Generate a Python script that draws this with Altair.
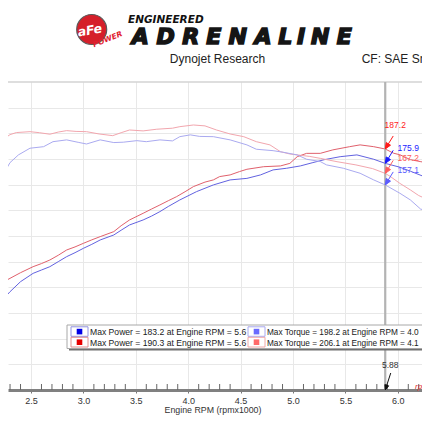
import altair as alt
import pandas as pd

# ---------------- data ----------------
# Red (after) power
rp_rpm = [2.20, 2.27, 2.40, 2.52, 2.60, 2.68, 2.76, 2.84, 2.92, 3.00, 3.08, 3.16, 3.29, 3.36, 3.44,
          3.57, 3.65, 3.73, 3.81, 3.89, 3.97, 4.05, 4.16, 4.24, 4.30, 4.40, 4.49, 4.56, 4.72, 4.88,
          4.97, 5.04, 5.13, 5.26, 5.38, 5.54, 5.64, 5.77, 5.88, 5.96, 6.02, 6.12, 6.22, 6.31]
rp_val = [79.3, 85.7, 91.4, 96.1, 98.5, 101.3, 105.0, 109.1, 111.5, 114.3, 117.0, 119.5, 123.4, 128.0, 132.5,
          137.7, 141.0, 144.2, 147.5, 150.7, 154.5, 158.5, 162.0, 163.7, 166.3, 167.6, 170.2, 172.0, 174.0, 174.6,
          176.6, 181.8, 184.4, 184.4, 187.1, 189.6, 191.0, 189.6, 187.8, 184.5, 183.3, 179.5, 177.9, 176.6]
# Blue (before) power
bp_rpm = [2.20, 2.30, 2.40, 2.52, 2.60, 2.68, 2.76, 2.84, 2.92, 3.00, 3.08, 3.16, 3.29, 3.36, 3.44,
          3.57, 3.65, 3.73, 3.81, 3.92, 4.08, 4.24, 4.40, 4.56, 4.69, 4.81, 4.94, 5.07, 5.19, 5.30,
          5.45, 5.61, 5.77, 5.88, 6.02, 6.12, 6.25, 6.31]
bp_val = [67.6, 76.6, 84.4, 90.9, 93.5, 96.1, 100.0, 103.9, 107.0, 110.4, 113.5, 116.9, 120.8, 124.5, 128.6,
          132.5, 135.5, 139.0, 143.0, 148.1, 154.6, 159.8, 163.7, 164.9, 167.6, 171.5, 172.8, 174.6, 177.2, 179.5,
          181.8, 183.2, 179.8, 176.6, 173.6, 170.5, 166.3, 168.9]
# Red (after) torque
rt_rpm = [2.20, 2.25, 2.30, 2.36, 2.49, 2.58, 2.68, 2.76, 2.84, 2.93, 3.03, 3.15, 3.28, 3.36, 3.44,
          3.57, 3.70, 3.85, 3.92, 4.05, 4.16, 4.27, 4.40, 4.53, 4.65, 4.78, 4.88, 4.97, 5.16, 5.26,
          5.42, 5.60, 5.76, 5.88, 5.93, 6.02, 6.12, 6.20, 6.31]
rt_val = [185.7, 196.2, 199.0, 200.6, 201.3, 200.5, 199.3, 201.0, 202.1, 201.5, 201.3, 199.5, 198.2, 200.5, 202.6,
          201.9, 203.2, 204.0, 205.2, 206.5, 205.8, 202.6, 199.5, 197.4, 193.5, 191.0, 185.7, 183.9, 182.0, 180.5,
          177.9, 175.4, 172.5, 168.8, 166.3, 161.0, 155.9, 151.5, 147.5]
# Blue (before) torque
bt_rpm = [2.20, 2.25, 2.30, 2.38, 2.49, 2.62, 2.71, 2.84, 2.95, 3.03, 3.16, 3.29, 3.38, 3.51, 3.60,
          3.73, 3.85, 3.92, 4.02, 4.11, 4.24, 4.40, 4.56, 4.65, 4.81, 4.91, 5.04, 5.13, 5.26, 5.32,
          5.48, 5.64, 5.77, 5.88, 6.02, 6.12, 6.22, 6.31]
bt_val = [155.9, 170.2, 177.2, 183.2, 188.4, 189.6, 193.5, 194.9, 193.0, 191.7, 194.9, 192.8, 193.1, 194.3, 193.5,
          194.9, 194.1, 197.4, 198.8, 197.6, 197.4, 194.9, 191.0, 187.6, 186.5, 185.2, 183.2, 179.8, 178.0, 175.4,
          172.8, 168.9, 163.7, 159.8, 153.3, 148.1, 140.8, 140.5]

series_names = ["Power (red)", "Power (blue)", "Torque (red)", "Torque (blue)"]
series_colors = ["#e0606c", "#6262e0", "#f2a6ae", "#aaaaf0"]

cursor_rpm = 5.88
flag_vals = [187.8, 176.6, 168.8, 159.8]          # curve heights at the cursor
flag_labels = ["187.2", "175.9", "167.2", "157.1"]
flag_colors = ["#ff1a1a", "#1a1aff", "#ff5c5c", "#5c5cff"]

x_ticks = [2.5, 3.0, 3.5, 4.0, 4.5, 5.0, 5.5, 6.0]
y_grid = [20, 40, 60, 80, 100, 120, 140, 160, 180, 200, 220]
minor_ticks = [round(i / 10, 1) for i in range(23, 63) if i % 5 != 0]

legend_labels = ["Max Power = 183.2 at Engine RPM = 5.6",
                 "Max Power = 190.3 at Engine RPM = 5.6",
                 "Max Torque = 198.2 at Engine RPM = 4.0",
                 "Max Torque = 206.1 at Engine RPM = 4.1"]
legend_colors = ["#0000e6", "#e60000", "#6a6aff", "#ff6a6a"]
legend_borders = ["#9090e0", "#e09090", "#a8a8f0", "#f0a8a8"]

# ---------------- chart ----------------
FONT = "Liberation Sans"
W, H = 414, 308
XDOM = [2.2805, 2.2805 + W / 104.8]
one = pd.DataFrame({"k": [0]})

X_ENC = alt.X("rpm:Q", scale=alt.Scale(domain=XDOM, nice=False, zero=False),
              axis=alt.Axis(values=x_ticks, format=".1f", title=None, grid=True, gridColor="#e8e8e8",
                            gridWidth=1, domainColor="#808080", domainWidth=3, tickColor="#777777",
                            tickSize=3, tickWidth=1, labelFont=FONT, labelFontSize=9, labelColor="#333333",
                            labelBaseline="alphabetic", labelPadding=10))
Y_ENC = alt.Y("val:Q", scale=alt.Scale(domain=[0, 240], nice=False, zero=False),
              axis=alt.Axis(values=y_grid, title=None, grid=True, gridColor="#e8e8e8", labels=False,
                            ticks=False, domain=False))

frames = []
for name, xs, ys in zip(series_names, [rp_rpm, bp_rpm, rt_rpm, bt_rpm], [rp_val, bp_val, rt_val, bt_val]):
    frames.append(pd.DataFrame({"rpm": xs, "val": ys, "series": name}))
curves_df = pd.concat(frames, ignore_index=True)


def px(v):
    return v - 8


def py(v):
    return v - 82


def txt(s, x, y, size, color="#222222", font=FONT, weight="normal", style="normal",
        align="left", baseline="alphabetic", angle=None, stroke=None, sw=0):
    kw = dict(text=s, fontSize=size, font=font, color=color, fontWeight=weight, fontStyle=style,
              align=align, baseline=baseline)
    if angle is not None:
        kw["angle"] = angle
    if stroke is not None:
        kw.update(stroke=stroke, strokeWidth=sw)
    return alt.Chart(one).mark_text(**kw).encode(x=alt.value(px(x)), y=alt.value(py(y)))


def box(x1, y1, x2, y2, fill, stroke=None, sw=1):
    kw = dict(fill=fill)
    if stroke is not None:
        kw.update(stroke=stroke, strokeWidth=sw)
    return alt.Chart(one).mark_rect(**kw).encode(
        x=alt.value(px(x1)), x2=alt.value(px(x2)), y=alt.value(py(y1)), y2=alt.value(py(y2)))


layers = []

# top frame line
layers.append(alt.Chart(one).mark_rule(color="#bdbdbd", strokeWidth=1).encode(y=alt.value(0)))

# curves
layers.append(alt.Chart(curves_df).mark_line(strokeWidth=1, clip=True).encode(
    x=X_ENC, y=Y_ENC,
    color=alt.Color("series:N", scale=alt.Scale(domain=series_names, range=series_colors), legend=None)))

# cursor
layers.append(alt.Chart(pd.DataFrame({"rpm": [cursor_rpm]})).mark_rule(
    color="#b3b3b3", strokeWidth=2.2).encode(x=X_ENC))

# minor ticks pointing up
layers.append(alt.Chart(pd.DataFrame({"rpm": minor_ticks})).mark_rule(
    color="#666666", strokeWidth=1).encode(x=X_ENC, y=alt.value(H - 6), y2=alt.value(H)))

# flags at the cursor
FLAG = "M0,0L0.377,-0.271L0.073,-0.459Z M0,0L0.571,-0.929"
flag_df = pd.DataFrame({"rpm": [cursor_rpm] * 4, "val": flag_vals, "lab": flag_labels, "c": flag_colors})
layers.append(alt.Chart(flag_df).mark_point(shape=FLAG, size=784, filled=True, strokeWidth=1,
                                            opacity=1).encode(
    x=X_ENC, y=Y_ENC, fill=alt.Fill("c:N", scale=None), stroke=alt.Stroke("c:N", scale=None)))
layers.append(alt.Chart(flag_df.iloc[[0]]).mark_text(font=FONT, fontSize=8.5, align="center",
                                                     baseline="middle", dx=10, dy=-24).encode(
    x=X_ENC, y=Y_ENC, text="lab:N", color=alt.Color("c:N", scale=None)))
layers.append(alt.Chart(flag_df.iloc[1:]).mark_text(font=FONT, fontSize=8.5, align="center",
                                                    baseline="middle", dx=23, dy=-15).encode(
    x=X_ENC, y=Y_ENC, text="lab:N", color=alt.Color("c:N", scale=None)))

# cursor value on the axis
ARROW = "M0,0L0.191,-0.230L-0.020,-0.299Z M0,0L0.306,-0.944"
cur_df = pd.DataFrame({"rpm": [cursor_rpm], "val": [0.0], "lab": ["5.88"]})
layers.append(alt.Chart(cur_df).mark_point(shape=ARROW, size=1296, filled=True, color="#111111",
                                           stroke="#111111", strokeWidth=1, opacity=1).encode(x=X_ENC, y=Y_ENC))
layers.append(alt.Chart(cur_df).mark_text(font=FONT, fontSize=8.5, color="#333333", align="center",
                                          baseline="middle", dx=5, dy=-25).encode(x=X_ENC, y=Y_ENC, text="lab:N"))

# legend box
layers.append(box(69, 327, 440, 350.5, "#707070"))
layers.append(box(67, 325, 440, 348.5, "#ffffff", "#a8a8a8", 1))
col_box = [(71, 88, 79.5, 90, 8.6), (248, 265, 256.5, 267, 8.25)]
row_box = [(326.8, 336.3, 331.6, 334.8), (337.3, 347.0, 342.2, 346.3)]
for i, (lab, col, bcol) in enumerate(zip(legend_labels, legend_colors, legend_borders)):
    c = i // 2
    r = i % 2
    x1, x2, cx, tx, fs = col_box[c]
    y1, y2, cy, ty = row_box[r]
    layers.append(box(x1, y1, x2, y2, "#ffffff", bcol, 1))
    layers.append(box(cx - 2.8, cy - 2.8, cx + 2.8, cy + 2.8, col))
    layers.append(txt(lab, tx, ty, fs, "#1a1a1a"))

# axis title and trailing red unit (cut at the right edge as in the reference)
layers.append(txt("Engine RPM (rpmx1000)", 213, 412.5, 8.8, "#333333", align="center"))
layers.append(txt("rpm", 415, 389, 8, "#e03030", style="italic"))

# header
layers.append(txt("Dynojet Research", 217.5, 63.3, 12, "#222222", align="center"))
layers.append(txt("CF: SAE Smoothing 5", 361.7, 63.3, 12, "#222222"))

# logo
BOLD_W = {"A": .774, "D": .830, "R": .770, "E": .683, "N": .837, "L": .637, "I": .372, "G": .821}


def spaced(word, x0, x1, base, size, color, sw=0.0):
    ws = [BOLD_W[ch] for ch in word]
    k = (x1 - x0) / sum(ws)
    out = []
    cum = 0.0
    for ch, w in zip(word, ws):
        cx = x0 + (cum + w / 2) * k
        out.append(txt(ch, cx, base, size, color, font="DejaVu Sans", weight="bold",
                       style="italic", align="center",
                       stroke=(color if sw > 0 else None), sw=sw))
        cum += w
    return out


layers.append(alt.Chart(one).mark_point(shape="circle", size=900, filled=True, fill="#d51f2a",
                                        stroke="#5a5a5a", strokeWidth=1.2, opacity=1).encode(
    x=alt.value(px(91.7)), y=alt.value(py(29.5))))
layers.append(txt("aFe", 90.5, 34.5, 12.5, "#ffffff", font="DejaVu Sans", weight="bold",
                  style="italic", align="center", angle=350))
layers.append(txt("POWER", 108.5, 41.5, 7.5, "#e0202e", font="DejaVu Sans", weight="bold",
                  style="italic", align="center", angle=338))
layers.append(txt("ENGINEERED", 128, 23, 10.5, "#111111", font="DejaVu Sans", weight="bold",
                  style="italic"))
layers += spaced("ADRENALINE", 128, 355, 44, 22, "#151515", sw=1.6)

chart = alt.layer(*layers).properties(
    width=W, height=H,
    padding={"left": 0, "top": 74, "right": 0, "bottom": 32},
    autosize=alt.AutoSizeParams(type="none"),
    background="#ffffff",
).configure_view(stroke=None)

chart.save("out.html", embed_options={"renderer": "svg", "actions": False})
